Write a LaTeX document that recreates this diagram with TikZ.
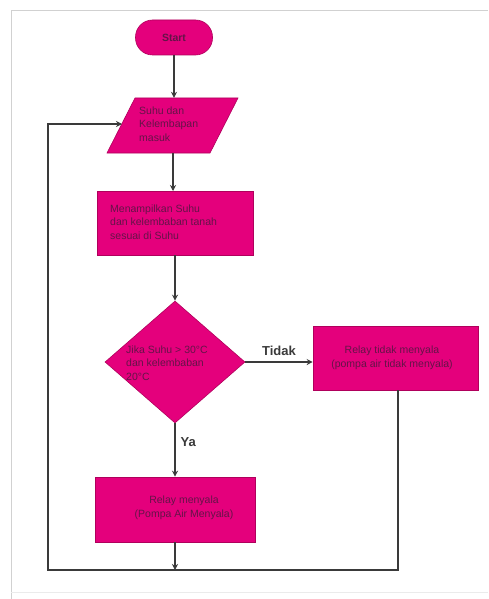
\documentclass[tikz,border=0pt]{standalone}
\usepackage{fontspec}
\setmainfont{Liberation Sans}
\usetikzlibrary{shapes.geometric,arrows.meta}
\definecolor{mag}{HTML}{E4007C}
\definecolor{magdark}{HTML}{B0005C}
\definecolor{txt}{HTML}{641448}
\definecolor{ln}{HTML}{3A3A3A}
\begin{document}
\begin{tikzpicture}[x=1pt,y=-1pt,
  box/.style={draw=magdark, fill=mag, line width=0.6pt, inner sep=0pt},
  lbl/.style={text=txt, font=\fontsize{10.5}{13.5}\selectfont, inner sep=0pt},
  conn/.style={draw=ln, line width=1.2pt, -{Stealth[length=6pt,width=6pt]}},
  yn/.style={text=ln, font=\fontsize{13}{15}\selectfont\bfseries, inner sep=0pt}]
\useasboundingbox (0,0) rectangle (488,599);
\fill[white] (0,0) rectangle (488,599);
\draw[black!18, line width=1pt] (11,599) -- (11,11) -- (488,11);
\draw[black!8, line width=0.8pt] (11,592) -- (488,592);

% Start
\node[box, rounded corners=17pt, minimum width=77pt, minimum height=35pt] (start) at (174,37.5) {};
\node[lbl, font=\fontsize{10.5}{13.5}\selectfont\bfseries] (starttxt) at (start) {Start};

% input parallelogram
\fill[mag, draw=magdark, line width=0.6pt] (135,98) -- (238,98) -- (210,153) -- (107,153) -- cycle;
\node[minimum width=75pt, minimum height=55pt, inner sep=0pt] (inp) at (173,125.5) {};
\node[lbl, align=left, anchor=west] (inptxt) at (139,124) {Suhu dan\\Kelembapan\\masuk};
\coordinate (inl) at (122,124);

% display box
\node[box, minimum width=156pt, minimum height=64pt] (show) at (175,223) {};
\node[lbl, align=left, anchor=west] (showtxt) at (110,222) {Menampilkan Suhu\\dan kelembaban tanah\\sesuai di Suhu};

% decision
\node[box, diamond, minimum width=140pt, minimum height=122pt] (dec) at (175,362) {};
\node[lbl, align=left, anchor=west] (dectxt) at (126,363) {Jika Suhu > 30°C\\ dan kelembaban\\ 20°C};

% no branch
\node[box, minimum width=165pt, minimum height=64pt] (off) at (395.5,358) {};
\node[lbl, align=center] (offtxt) at (392,358) {Relay tidak menyala\\(pompa air tidak menyala)};

% yes branch
\node[box, minimum width=160pt, minimum height=65pt] (on) at (175,509.5) {};
\node[lbl, align=center] (ontxt) at (184,508) {Relay menyala\\(Pompa Air Menyala)};

\coordinate (bl) at (48,570);
\coordinate (br) at (398,570);

\draw[conn] (start.south) -- (start.south |- inp.north);
\draw[conn] (173,153) -- (173,191);
\draw[conn] (show.south) -- (dec.north);
\draw[conn] (dec.east) -- (dec.east -| off.west) node[yn, midway, above=6pt] (tidak) {Tidak};
\draw[conn] (dec.south) -- (on.north) node[yn, pos=0.35, right=5pt] (ya) {Ya};
\draw[conn] (on.south) -- (on.south |- bl);
\draw[conn] (off.south -| br) -- (br) -- (bl) -- (bl |- inl) -- (inl);
\end{tikzpicture}
\end{document}
